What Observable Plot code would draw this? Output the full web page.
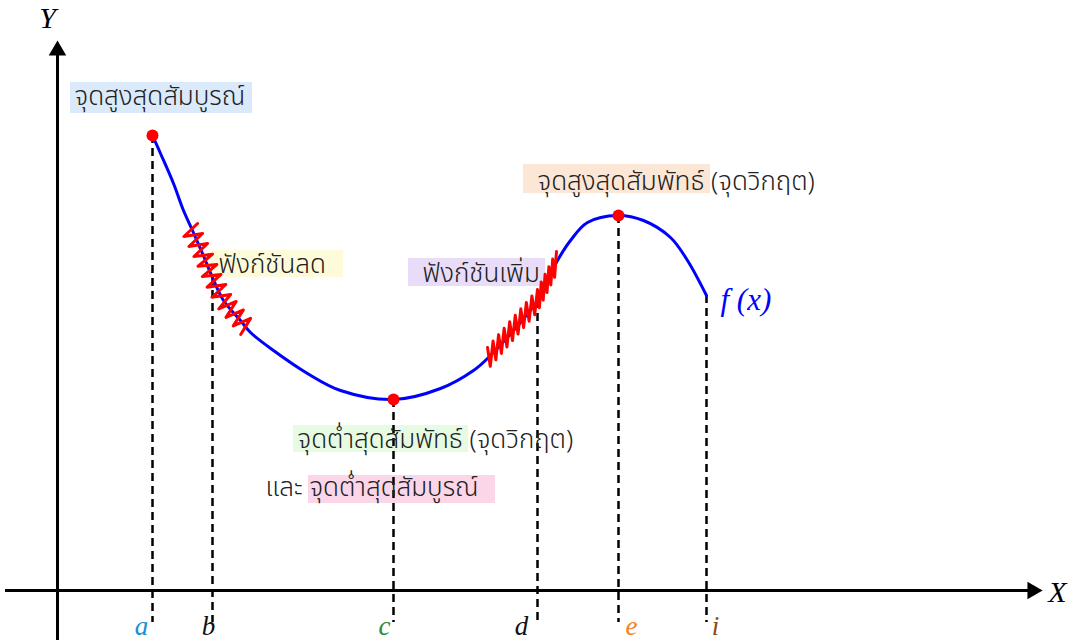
<!DOCTYPE html>
<html>
<head>
<meta charset="utf-8">
<script src="https://cdn.jsdelivr.net/npm/d3@7"></script>
<script src="https://cdn.jsdelivr.net/npm/@observablehq/plot@0.6"></script>
<style>
  body { margin: 0; background: #fff; }
  #chart svg { display: block; }
</style>
</head>
<body>
<div id="chart"></div>
<script>
// f(x): sampled points of the curve
const curveX = [9.5, 10.3, 11.6, 12.6, 13.5, 14.5, 15.5, 16.6, 18.3, 19.3, 21.6, 25.0, 28.3, 33.6, 38.3, 41.6, 43.1, 48.0, 50.0, 51.3, 53.0, 56.0, 58.6, 61.3, 63.0, 64.9];
const curveY = [45.5, 43.7, 40.7, 38.0, 36.0, 33.7, 31.3, 29.0, 27.0, 25.8, 24.0, 21.7, 20.0, 19.1, 20.2, 22.0, 23.3, 29.0, 33.0, 35.0, 36.8, 37.5, 37.0, 35.3, 33.0, 29.5];

// stretches of the curve where it decreases / increases
const fallX = [13.2, 14.5, 15.5, 16.6, 18.3, 19.0];
const fallY = [36.3, 33.7, 31.3, 29.0, 27.0, 26.2];
const riseX = [43.0, 48.0, 49.9];
const riseY = [23.2, 29.0, 32.8];

// named points on the x axis
const tickNames = ["a", "b", "c", "d", "e", "i"];
const tickX = [9.5, 15.5, 33.6, 48.0, 56.1, 64.9];
const tickFx = [45.5, 31.3, 19.1, 29.0, 37.5, 29.5];
const tickLabelX = [8.4, 15.1, 32.7, 46.4, 57.4, 65.8];
const tickColors = ["#1b8fd1", "#111111", "#2e8b2e", "#111111", "#f5821f", "#8b4a14"];

// extreme points
const extremaX = [9.5, 33.6, 56.1];
const extremaY = [45.5, 19.1, 37.5];

// annotations
const noteText = ["จุดสูงสุดสัมบูรณ์", "ฟังก์ชันลด", "ฟังก์ชันเพิ่ม", "จุดสูงสุดสัมพัทธ์ (จุดวิกฤต)", "จุดต่ำสุดสัมพัทธ์ (จุดวิกฤต)", "และ จุดต่ำสุดสัมบูรณ์"];
const noteX = [1.7, 16.1, 36.5, 48.0, 24.0, 20.8];
const noteY = [49.4, 32.6, 31.7, 40.9, 15.1, 10.3];
const highlightX1 = [1.3, 15.3, 35.1, 46.6, 23.6, 25.1];
const highlightX2 = [19.5, 28.6, 48.8, 65.3, 41.1, 43.8];
const highlightY1 = [47.7, 31.3, 30.4, 39.7, 13.8, 8.7];
const highlightY2 = [50.8, 34.0, 33.2, 42.6, 16.5, 11.5];
const highlightColors = ["#dbeafb", "#fdfbd9", "#e9dcf8", "#fce6d5", "#e7fbe3", "#fbd6e9"];

const curvePts = curveX.map((x, k) => ({x, y: curveY[k]}));
const fallPts = fallX.map((x, k) => ({x, y: fallY[k]}));
const risePts = riseX.map((x, k) => ({x, y: riseY[k]}));
const ticks = tickNames.map((name, k) => ({name, x: tickX[k], fx: tickFx[k], lx: tickLabelX[k], color: tickColors[k]}));
const extrema = extremaX.map((x, k) => ({x, y: extremaY[k]}));
const notes = noteText.map((text, k) => ({text, x: noteX[k], y: noteY[k]}));
const highlights = highlightColors.map((color, k) => ({x1: highlightX1[k], x2: highlightX2[k], y1: highlightY1[k], y2: highlightY2[k], color}));

// a D3-style curve factory that draws a zigzag along the polyline;
// teeth stick out perpendicular to the path, or vertically when asked
function zigzag(period, amp, vertical = false) {
  return (context) => {
    let pts = [];
    return {
      areaStart() {}, areaEnd() {},
      lineStart() { pts = []; },
      point(x, y) { pts.push([+x, +y]); },
      lineEnd() {
        const seg = [];
        let total = 0;
        for (let k = 1; k < pts.length; ++k) {
          const L = Math.hypot(pts[k][0] - pts[k - 1][0], pts[k][1] - pts[k - 1][1]);
          seg.push(L); total += L;
        }
        const n = Math.max(2, Math.round(total / (period / 2)));
        for (let j = 0; j <= n; ++j) {
          let s = j * total / n, k = 0;
          while (k < seg.length - 1 && s > seg[k]) { s -= seg[k]; ++k; }
          const [x0, y0] = pts[k], [x1, y1] = pts[k + 1];
          const t = seg[k] ? s / seg[k] : 0;
          const ux = (x1 - x0) / seg[k], uy = (y1 - y0) / seg[k];
          const nx = vertical ? 0 : -uy, ny = vertical ? 1 : ux;
          const side = j % 2 ? 1 : -1;
          const px = x0 + (x1 - x0) * t + nx * amp * side;
          const py = y0 + (y1 - y0) * t + ny * amp * side;
          j === 0 ? context.moveTo(px, py) : context.lineTo(px, py);
        }
      }
    };
  };
}

const thai = "'Noto Sans Thai', sans-serif";
const serif = "'Liberation Serif', 'DejaVu Serif', serif";

const chart = Plot.plot({
  width: 1070,
  height: 642,
  margin: 0,
  x: {domain: [-5.7, 101.3], axis: null},
  y: {domain: [-5.2, 59.0], axis: null},
  marks: [
    // highlight boxes behind the annotations
    Plot.rect(highlights, {x1: "x1", x2: "x2", y1: "y1", y2: "y2", fill: d => d.color}),
    // axes
    Plot.ruleY([0], {x1: -5.2, x2: 97.5, stroke: "#000", strokeWidth: 3}),
    Plot.ruleX([0], {y1: -5.0, y2: 53.8, stroke: "#000", strokeWidth: 3}),
    Plot.dot([{x: 97.5, y: 0}], {x: "x", y: "y", symbol: "triangle", r: 6.5, fill: "#000", rotate: 90}),
    Plot.dot([{x: 0, y: 54.0}], {x: "x", y: "y", symbol: "triangle", r: 6.5, fill: "#000"}),
    Plot.text(["X"], {x: 100.0, y: -0.2, fontSize: 30, fontStyle: "italic", fontFamily: serif, fill: "#000"}),
    Plot.text(["Y"], {x: -1.0, y: 57.2, fontSize: 30, fontStyle: "italic", fontFamily: serif, fill: "#000"}),
    // dashed drop lines
    Plot.ruleX(ticks, {x: "x", y1: "fx", y2: -3.2, stroke: "#000", strokeWidth: 2.5, strokeDasharray: "8,5"}),
    Plot.text(ticks, {x: "lx", y: -3.6, text: "name", fill: d => d.color, fontSize: 27, fontStyle: "italic", fontFamily: serif}),
    // the function
    Plot.line(curvePts, {x: "x", y: "y", stroke: "#0000ff", strokeWidth: 3, curve: "catmull-rom"}),
    Plot.line(fallPts, {x: "x", y: "y", stroke: "#ff0000", strokeWidth: 3, curve: zigzag(11, 9)}),
    Plot.line(risePts, {x: "x", y: "y", stroke: "#ff0000", strokeWidth: 3, curve: zigzag(8.5, 11, true)}),
    Plot.dot(extrema, {x: "x", y: "y", r: 6, fill: "#ff0000"}),
    Plot.text(["f (x)"], {x: 66.3, y: 29.0, textAnchor: "start", fill: "#0000ff", fontSize: 31, fontStyle: "italic", fontFamily: serif}),
    // annotations
    Plot.text(notes, {x: "x", y: "y", text: "text", textAnchor: "start", fill: "#222", fontSize: 26, fontWeight: 300, fontFamily: thai})
  ]
});

document.getElementById("chart").append(chart);
</script>
</body>
</html>
